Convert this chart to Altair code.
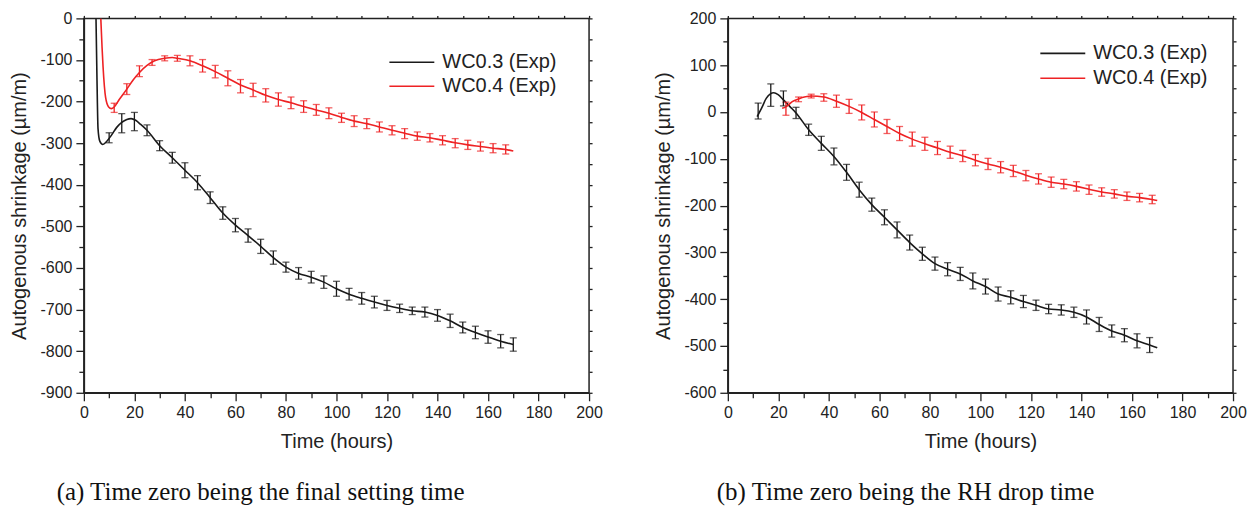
import altair as alt
import pandas as pd

SERIES = ["WC0.3 (Exp)", "WC0.4 (Exp)"]
COLORS = ["#1a1a1a", "#ee2224"]

# ---- panel (a): time zero = final setting time ----
a_blk_line_t = [4.8, 5.2, 5.6, 6.3, 7.5, 9.0, 11, 13, 15, 17, 18.7, 20.5, 22.5,
                25, 30, 35, 40, 45, 50, 55, 60, 65, 70, 75, 80, 85, 90, 95, 100, 105,
                110, 115, 120, 125, 130, 135, 140, 145, 150, 155, 160, 165, 170]
a_blk_line_v = [0, -150, -265, -295, -303, -296, -280, -262, -250, -243, -241, -245, -255,
                -269, -306, -335, -365, -395, -431, -468, -497, -522, -548, -575, -598, -613,
                -622, -634, -650, -663, -673, -682, -690, -697, -703, -706, -714, -727, -743,
                -755, -766, -776, -784]
a_red_line_t = [6.7, 7.2, 7.6, 8.6, 9.8, 10.9, 12, 14, 17, 19.5, 22, 25, 28, 32, 35, 37,
                42, 47, 52, 57, 62, 67, 72, 77, 82, 87, 92, 97, 102, 107, 112, 117, 122,
                127, 132, 137, 142, 147, 152, 157, 162, 167, 170]
a_red_line_v = [0, -70, -117, -190, -213, -217, -213, -195, -170, -148, -130, -113, -102, -96,
                -94, -96, -102, -114, -128, -144, -160, -172, -185, -195, -203, -212, -220,
                -228, -238, -247, -253, -261, -269, -276, -283, -287, -293, -299, -304, -308,
                -312, -315, -319]
a_blk_bar_t = [10, 15, 20, 25, 30, 35, 40, 45, 50, 55, 60, 65, 70, 75, 80, 85, 90, 95, 100,
               105, 110, 115, 120, 125, 130, 135, 140, 145, 150, 155, 160, 165, 170]
a_blk_bar_v = [-287, -252, -248, -269, -306, -335, -365, -395, -431, -468, -497, -522, -548,
               -575, -598, -613, -622, -634, -650, -663, -673, -682, -690, -697, -703, -706,
               -714, -727, -743, -755, -766, -776, -784]
a_blk_bar_e = [12, 23, 22, 13, 12, 13, 18, 17, 14, 15, 16, 16, 17, 16, 12, 14, 14, 15, 18, 14,
               14, 14, 12, 10, 9, 12, 14, 16, 13, 15, 15, 16, 16]
a_red_bar_t = [12, 17, 22, 27, 32, 37, 42, 47, 52, 57, 62, 67, 72, 77, 82, 87, 92, 97, 102,
               107, 112, 117, 122, 127, 132, 137, 142, 147, 152, 157, 162, 167]
a_red_bar_v = [-215, -170, -127, -106, -96, -96, -102, -114, -128, -144, -163, -172, -185,
               -195, -203, -212, -220, -228, -239, -247, -253, -261, -269, -277, -283, -287,
               -293, -300, -304, -308, -312, -315]
a_red_bar_e = [11, 13, 13, 7, 6, 7, 12, 15, 15, 18, 16, 16, 16, 16, 14, 14, 13, 13, 11, 13,
               12, 12, 11, 12, 10, 10, 11, 11, 11, 11, 11, 11]

# ---- panel (b): time zero = RH drop time ----
b_blk_line_t = [11.6, 13.6, 15.2, 18.2, 19.9, 22, 24.5, 27, 32, 37, 42, 47, 52, 57, 62, 67,
                72, 77, 82, 87, 92, 97, 102, 107, 112, 117, 122, 127, 132, 137, 142, 147,
                152, 157, 162, 167, 170]
b_blk_line_v = [-10, 11, 29, 41, 37, 26, 12, -2, -38, -67, -95, -129, -166, -198, -225, -252,
                -279, -303, -324, -336, -346, -361, -373, -389, -396, -405, -413, -421, -423,
                -428, -438, -454, -468, -477, -489, -498, -504]
b_red_line_t = [21.5, 23, 25.5, 28, 33, 38, 43, 48, 53, 58, 63, 68, 73, 78, 83, 88, 93, 98,
                103, 108, 113, 118, 123, 128, 133, 138, 143, 148, 153, 158, 163, 168, 170]
b_red_line_v = [8, 11, 22, 28, 34, 32, 23, 12, -1, -16, -31, -46, -58, -68, -77, -86, -94,
                -103, -111, -118, -126, -135, -143, -150, -154, -159, -165, -171, -175, -180,
                -183, -187, -189]
b_blk_bar_t = [12, 17, 22, 27, 32, 37, 42, 47, 52, 57, 62, 67, 72, 77, 82, 87, 92, 97, 102,
               107, 112, 117, 122, 127, 132, 137, 142, 147, 152, 157, 162, 167]
b_blk_bar_v = [2, 36, 29, -2, -38, -67, -95, -129, -166, -198, -225, -252, -279, -303, -324,
               -336, -346, -361, -373, -389, -396, -405, -413, -421, -423, -428, -438, -454,
               -468, -477, -489, -498]
b_blk_bar_e = [17, 24, 16, 12, 12, 15, 18, 17, 16, 14, 16, 17, 16, 14, 14, 14, 14, 17, 16, 15,
               14, 13, 11, 10, 11, 11, 15, 15, 13, 14, 15, 16]
b_red_bar_t = [23, 28, 33, 38, 43, 48, 53, 58, 63, 68, 73, 78, 83, 88, 93, 98, 103, 108, 113,
               118, 123, 128, 133, 138, 143, 148, 153, 158, 163, 168]
b_red_bar_v = [7, 27, 34, 31, 23, 12, -1, -16, -31, -46, -58, -68, -77, -86, -94, -103, -111,
               -118, -126, -136, -143, -150, -154, -159, -166, -171, -175, -180, -183, -187]
b_red_bar_e = [14, 5, 4, 8, 13, 15, 16, 16, 15, 15, 15, 14, 14, 13, 12, 12, 12, 12, 12, 11,
               11, 11, 10, 10, 10, 9, 9, 9, 9, 9]

captions = ["(a) Time zero being the final setting time", "(b) Time zero being the RH drop time"]
x_title = "Time (hours)"
y_title = "Autogenous shrinkage (\u00b5m/m)"

FONT = "Liberation Sans"
INK = "#222222"
W, H = 506, 375


def lines_df(bt, bv, rt, rv):
    return pd.concat([
        pd.DataFrame({"t": bt, "v": bv, "s": SERIES[0]}),
        pd.DataFrame({"t": rt, "v": rv, "s": SERIES[1]}),
    ], ignore_index=True)


def bars_df(bt, bv, be, rt, rv, re):
    d = pd.concat([
        pd.DataFrame({"t": bt, "v": bv, "e": be, "s": SERIES[0]}),
        pd.DataFrame({"t": rt, "v": rv, "e": re, "s": SERIES[1]}),
    ], ignore_index=True)
    d["lo"] = d["v"] - d["e"]
    d["hi"] = d["v"] + d["e"]
    return d


def panel(ldf, bdf, ydom, leg_x, leg_y, row_pad, caption, cap_x):
    xs = alt.Scale(domain=[0, 200], nice=False, zero=False)
    ys = alt.Scale(domain=ydom, nice=False, zero=False)
    xvals = list(range(0, 201, 10))
    yvals = list(range(ydom[0], ydom[1] + 1, 50))
    color = alt.Color("s:N", scale=alt.Scale(domain=SERIES, range=COLORS),
                      legend=alt.Legend(orient="none", legendX=leg_x, legendY=leg_y,
                                        title=None, symbolType="stroke", symbolSize=2025,
                                        symbolStrokeWidth=1.6, labelFont=FONT, labelFontSize=20,
                                        labelColor=INK, labelOffset=7, rowPadding=row_pad,
                                        clipHeight=20, padding=0, labelLimit=300))
    xaxis = alt.Axis(values=xvals, title=x_title,
                     labelExpr="datum.value % 20 === 0 ? '' + datum.value : ''",
                     tickSize={"condition": {"test": "datum.value % 20 === 0", "value": 8}, "value": 5},
                     labelPadding=4, titlePadding=11, labelFlush=False, labelOverlap=False, grid=False)
    yaxis = alt.Axis(values=yvals, title=y_title,
                     labelExpr="datum.value % 100 === 0 ? '' + datum.value : ''",
                     tickSize={"condition": {"test": "datum.value % 100 === 0", "value": 8}, "value": 5},
                     labelPadding=4, titlePadding=10, labelFlush=False, labelOverlap=False, grid=False)
    lines = alt.Chart(ldf).mark_line(interpolate="monotone", strokeWidth=1.6, clip=True).encode(
        x=alt.X("t:Q", scale=xs, axis=xaxis),
        y=alt.Y("v:Q", scale=ys, axis=yaxis),
        color=color,
        order="t:Q",
    )
    bars = alt.Chart(bdf).mark_errorbar(ticks=True, size=7, thickness=1.3).encode(
        x=alt.X("t:Q", scale=xs, axis=None),
        y=alt.Y("lo:Q", scale=ys, axis=None),
        y2="hi:Q",
        color=alt.Color("s:N", scale=alt.Scale(domain=SERIES, range=COLORS), legend=None),
    )
    frame = alt.Chart(bdf).mark_point(opacity=0).encode(
        x=alt.X("t:Q", scale=xs, axis=alt.Axis(orient="top", values=xvals, labels=False, title=None,
                                                tickSize=3, domain=False, grid=False)),
        y=alt.Y("v:Q", scale=ys, axis=alt.Axis(orient="right", values=yvals, labels=False, title=None,
                                                tickSize=3, domain=False, grid=False)),
    )
    cap = alt.Chart(pd.DataFrame({"c": [caption]})).mark_text(
        font="Liberation Serif", fontSize=25, color="#111111", align="center", baseline="alphabetic"
    ).encode(text="c:N", x=alt.value(cap_x), y=alt.value(482))
    return alt.layer(lines, bars, frame, cap).resolve_axis(x="independent", y="independent").properties(
        width=W, height=H)


pa = panel(lines_df(a_blk_line_t, a_blk_line_v, a_red_line_t, a_red_line_v),
           bars_df(a_blk_bar_t, a_blk_bar_v, a_blk_bar_e, a_red_bar_t, a_red_bar_v, a_red_bar_e),
           [-900, 0], 305, 34, 4, captions[0], 177)
pb = panel(lines_df(b_blk_line_t, b_blk_line_v, b_red_line_t, b_red_line_v),
           bars_df(b_blk_bar_t, b_blk_bar_v, b_blk_bar_e, b_red_bar_t, b_red_bar_v, b_red_bar_e),
           [-600, 200], 312, 25, 5, captions[1], 178)

chart = alt.hconcat(pa, pb, spacing=49).resolve_scale(color="independent").properties(
    padding={"left": 1, "top": 1, "right": 0, "bottom": 0}
).configure_view(stroke=INK, strokeWidth=1.5).configure_axis(
    domainColor=INK, domainWidth=1.5, tickColor=INK, tickWidth=1.3,
    labelFont=FONT, labelFontSize=16, labelColor=INK,
    titleFont=FONT, titleFontSize=20, titleFontWeight="normal", titleColor=INK,
)

chart.save("out.html", embed_options={"renderer": "svg", "actions": False})
